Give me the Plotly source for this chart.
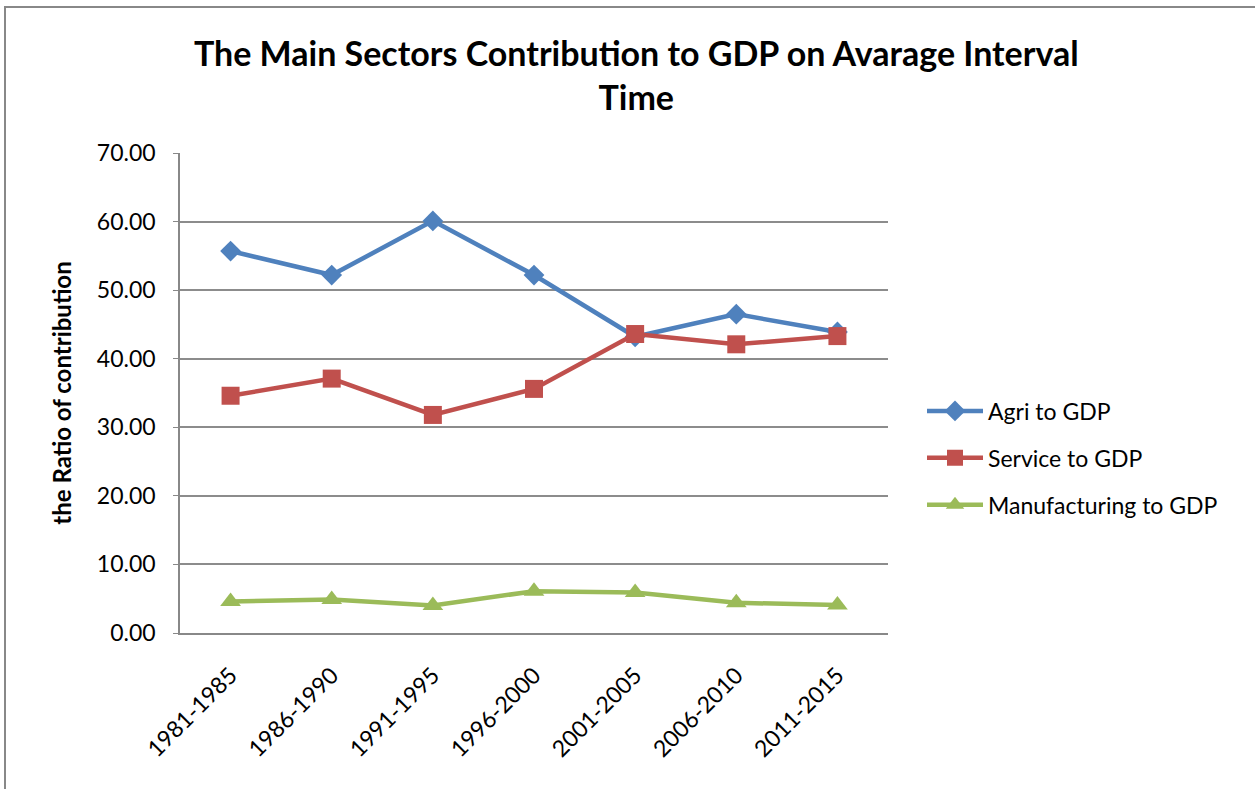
import plotly.graph_objects as go

categories = ["1981-1985", "1986-1990", "1991-1995", "1996-2000", "2001-2005", "2006-2010", "2011-2015"]
agri = [55.7, 52.2, 60.1, 52.2, 43.2, 46.5, 43.9]
service = [34.6, 37.1, 31.8, 35.6, 43.6, 42.1, 43.3]
manufacturing = [4.6, 4.9, 4.0, 6.1, 5.9, 4.4, 4.1]
y_ticks = [0, 10, 20, 30, 40, 50, 60, 70]

FONT = "Lato, Calibri, Carlito, sans-serif"

fig = go.Figure()
series = [
    ("Agri to GDP", agri, "#4F81BD", "diamond", 16),
    ("Service to GDP", service, "#C0504D", "square", 18),
    ("Manufacturing to GDP", manufacturing, "#9BBB59", "triangle-up", 18),
]
for i, (name, vals, col, sym, sz) in enumerate(series):
    fig.add_trace(go.Scatter(
        x=categories, y=vals, name=name, mode="lines+markers",
        line=dict(color=col, width=4.5),
        marker=dict(symbol=sym, size=sz, color=col),
        legendgroup=f"g{i}",
    ))

fig.update_layout(
    width=1255, height=789,
    margin=dict(l=180, r=367, t=153, b=156),
    paper_bgcolor="white", plot_bgcolor="white",
    font=dict(family=FONT, size=23, color="black"),
    title=dict(
        text="<b>The Main Sectors Contribution to GDP on Avarage Interval<br>Time</b>",
        x=0.507, xanchor="center", y=1 - 66 / 789, yanchor="middle",
        font=dict(family=FONT, size=34, color="black"),
    ),
    showlegend=True,
    legend=dict(
        x=(922 - 180) / 708, y=(633 - 458) / 480, xanchor="left", yanchor="middle",
        font=dict(family=FONT, size=23, color="black"),
        tracegroupgap=14, bgcolor="rgba(0,0,0,0)", itemwidth=56,
    ),
    xaxis=dict(
        type="category", range=[-0.5, 6.5], tickangle=-45,
        showgrid=False, showline=True, linecolor="#888888", linewidth=1.5,
        ticks="", ticklabelstandoff=18,
        tickfont=dict(family=FONT, size=23, color="black"),
    ),
    yaxis=dict(
        range=[0, 70], tickvals=y_ticks, tickformat=".2f",
        showgrid=True, gridcolor="#8c8c8c", gridwidth=1.5,
        showline=True, linecolor="#888888", linewidth=1.5,
        ticks="outside", ticklen=5, tickcolor="#888888",
        zeroline=False, ticklabelstandoff=13,
        tickfont=dict(family=FONT, size=23, color="black"),
        title=dict(text="<b>the Ratio of contribution</b>", standoff=18,
                   font=dict(family=FONT, size=24, color="black")),
    ),
    shapes=[dict(
        type="rect", xref="paper", yref="paper",
        x0=(5 - 180) / 708, x1=(1300 - 180) / 708,
        y0=-(830 - 633) / 480, y1=(633 - 7) / 480,
        line=dict(color="#888888", width=2), fillcolor="rgba(0,0,0,0)",
        layer="below",
    )],
)

fig.write_html("out.html")
